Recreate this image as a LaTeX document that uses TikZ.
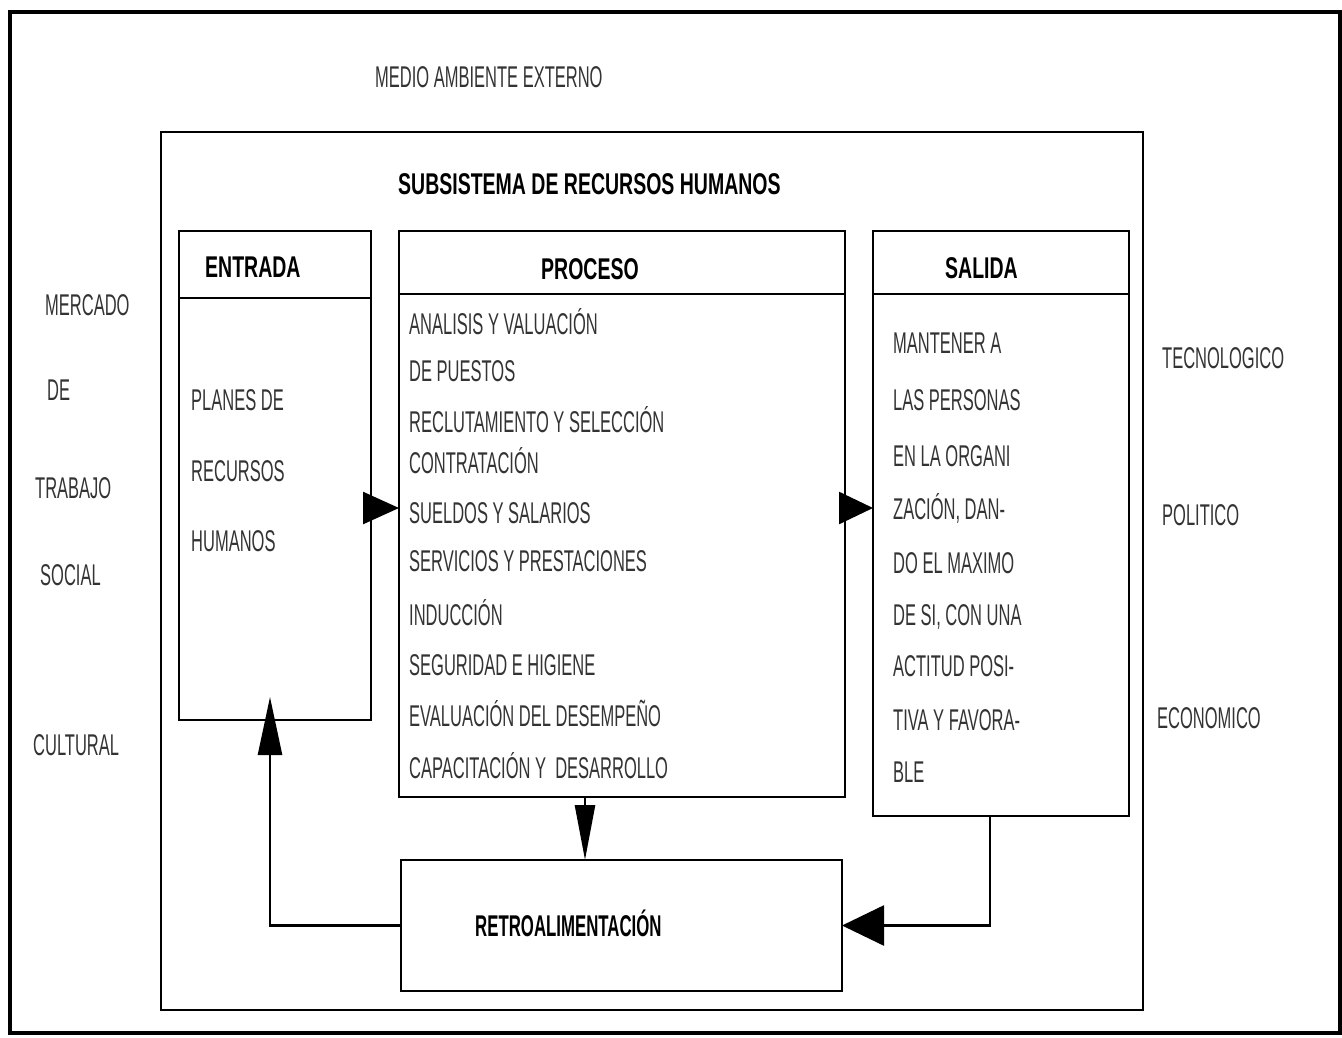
\documentclass[tikz,border=0pt]{standalone}
\usepackage{fontspec}
\usetikzlibrary{arrows.meta}
\newfontfamily\narrowfont[FakeStretch=0.55]{Liberation Sans}
\newfontfamily\narrowbold[FakeStretch=0.65]{Liberation Sans Bold}
\newfontfamily\retrofont[FakeStretch=0.56]{Liberation Sans Bold}

\begin{document}
\begin{tikzpicture}[x=1pt,y=1pt,yscale=-1,
  box/.style={draw, line width=2.6pt, inner sep=0pt, outer sep=0pt, anchor=north west},
  lbl/.style={anchor=base west, inner sep=0pt, text=black!80, font=\narrowfont\fontsize{30}{32}\selectfont},
  ttl/.style={anchor=base west, inner sep=0pt, font=\narrowbold\fontsize{30}{34}\selectfont},
  link/.style={line width=2.6pt}]
\useasboundingbox (0,0) rectangle (1342,1038);

%Outer frame and subsystem frame
\draw [line width=3.5pt] (10,12) rectangle (1340,1033);
\draw [line width=2.6pt] (161,132) rectangle (1143,1010);

%Boxes
\node [box, minimum width=192pt, minimum height=489pt] (entrada) at (179,231) {};
\node [box, minimum width=446pt, minimum height=566pt] (proceso) at (399,231) {};
\node [box, minimum width=256pt, minimum height=585pt] (salida) at (873,231) {};
\node [box, minimum width=441pt, minimum height=131pt] (retro) at (401,860) {};

%Header lines
\draw [link] ([yshift=67pt]entrada.north west) -- ([yshift=67pt]entrada.north east);
\draw [link] ([yshift=63pt]proceso.north west) -- ([yshift=63pt]proceso.north east);
\draw [link] ([yshift=63pt]salida.north west) -- ([yshift=63pt]salida.north east);

%Connector positions
\coordinate (flow) at (0,508);
\coordinate (drop) at (585,0);
\coordinate (back) at (990,0);
\coordinate (up) at (270,0);

%Connectors
\draw [link, -{Triangle[length=36pt,width=32pt]}] (entrada.east |- flow) -- (proceso.west |- flow);
\draw [link, -{Triangle[length=34pt,width=32pt]}] (proceso.east |- flow) -- (salida.west |- flow);
\draw [link, -{Triangle[length=55pt,width=20pt]}] (proceso.south -| drop) -- (retro.north -| drop);
\draw [link, -{Triangle[length=42pt,width=40pt]}] (salida.south -| back) |- (retro.east);
\draw [link, -{Triangle[length=58pt,width=24pt]}, shorten >=-23pt] (retro.west) -| (entrada.south -| up);

% Titles
\node [lbl] (medio) at (375,88) {MEDIO AMBIENTE EXTERNO};
\node [ttl] (subsis) at (398,195) {SUBSISTEMA DE RECURSOS HUMANOS};
\node [ttl] (tentrada) at (205,277) {ENTRADA};
\node [ttl] (tproceso) at (541,279) {PROCESO};
\node [ttl] (tsalida) at (945,278) {SALIDA};
\node [anchor=base west, inner sep=0pt, font=\retrofont\fontsize{30}{34}\selectfont] (tretro) at (475,936) {RETROALIMENTACIÓN};

% Left environment
\node [lbl] (mercado) at (45,315) {MERCADO};
\node [lbl] (de) at (47,400) {DE};
\node [lbl] (trabajo) at (35,498) {TRABAJO};
\node [lbl] (social) at (40,585) {SOCIAL};
\node [lbl] (cultural) at (33,755) {CULTURAL};

% Right environment
\node [lbl] (tecno) at (1162,368) {TECNOLOGICO};
\node [lbl] (politico) at (1162,525) {POLITICO};
\node [lbl] (economico) at (1157,728) {ECONOMICO};

% Entrada text
\node [lbl] (e1) at (191,410) {PLANES DE};
\node [lbl] (e2) at (191,481) {RECURSOS};
\node [lbl] (e3) at (191,551) {HUMANOS};

% Proceso text
\node [lbl] (p1) at (409,334) {ANALISIS Y VALUACIÓN};
\node [lbl] (p2) at (409,381) {DE PUESTOS};
\node [lbl] (p3) at (409,432) {RECLUTAMIENTO Y SELECCIÓN};
\node [lbl] (p4) at (409,473) {CONTRATACIÓN};
\node [lbl] (p5) at (409,523) {SUELDOS Y SALARIOS};
\node [lbl] (p6) at (409,571) {SERVICIOS Y PRESTACIONES};
\node [lbl] (p7) at (409,625) {INDUCCIÓN};
\node [lbl] (p8) at (409,675) {SEGURIDAD E HIGIENE};
\node [lbl] (p9) at (409,726) {EVALUACIÓN DEL DESEMPEÑO};
\node [lbl] (p10) at (409,778) {CAPACITACIÓN Y\ \ DESARROLLO};

% Salida text
\node [lbl] (s1) at (893,353) {MANTENER A};
\node [lbl] (s2) at (893,410) {LAS PERSONAS};
\node [lbl] (s3) at (893,466) {EN LA ORGANI};
\node [lbl] (s4) at (893,519) {ZACIÓN, DAN-};
\node [lbl] (s5) at (893,573) {DO EL MAXIMO};
\node [lbl] (s6) at (893,625) {DE SI, CON UNA};
\node [lbl] (s7) at (893,676) {ACTITUD POSI-};
\node [lbl] (s8) at (893,730) {TIVA Y FAVORA-};
\node [lbl] (s9) at (893,782) {BLE};

\end{tikzpicture}
\end{document}
